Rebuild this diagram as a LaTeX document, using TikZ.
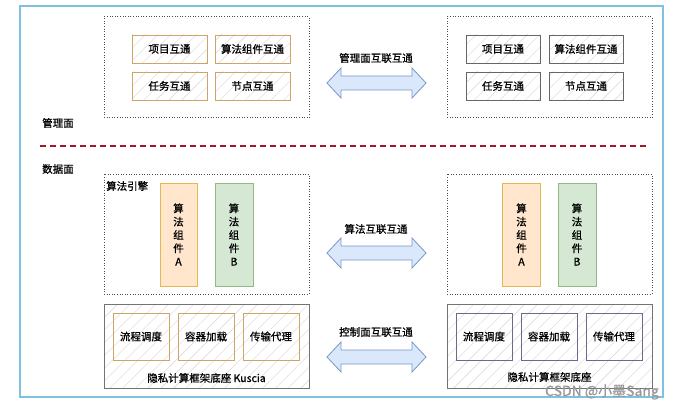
\documentclass[tikz,border=0pt]{standalone}
\usepackage{fontspec}
\setmainfont[FakeBold=0.9]{Noto Sans CJK SC}
\usetikzlibrary{patterns.meta}
\definecolor{frameblue}{RGB}{125,195,225}
\definecolor{dashred}{RGB}{165,20,40}
\definecolor{tan}{RGB}{205,165,100}
\definecolor{purp}{RGB}{110,105,140}
\definecolor{orfill}{RGB}{255,230,204}
\definecolor{ordraw}{RGB}{225,185,80}
\definecolor{grfill}{RGB}{213,232,212}
\definecolor{grdraw}{RGB}{150,185,130}
\definecolor{arfill}{RGB}{218,232,252}
\definecolor{ardraw}{RGB}{120,150,200}
\tikzset{
  hatch/.style={preaction={fill=white},pattern={Lines[angle=45,distance=9pt,line width=0.4pt]},pattern color=black!16},
  dotbox/.style={draw=black!70,line width=1pt,dash pattern=on 1pt off 1.6pt},
  tanbox/.style={hatch,draw=tan,line width=0.9pt},
  greybox/.style={hatch,draw=black!60,line width=0.9pt},
  purpbox/.style={hatch,draw=purp,line width=0.9pt},
  basebox/.style={hatch,draw=black!55,line width=0.8pt},
  lbl/.style={font=\fontsize{10.5}{12}\selectfont,inner sep=0pt},
  vlbl/.style={lbl,align=center,font=\fontsize{10.5}{13.3}\selectfont},
  dblarrow/.style={draw=ardraw,fill=arfill,line width=0.8pt},
}
\newcommand{\dblarr}[3]{% x1 x2 yc
  \draw[dblarrow] (#1,#3) -- (#1+14,#3-15) -- (#1+14,#3-7) -- (#2-14,#3-7) -- (#2-14,#3-15) -- (#2,#3)
   -- (#2-14,#3+15) -- (#2-14,#3+7) -- (#1+14,#3+7) -- (#1+14,#3+15) -- cycle;}
\begin{document}
\begin{tikzpicture}[x=1pt,y=-1pt]
\useasboundingbox (0,0) rectangle (674,409);
% outer frame
\draw[frameblue,line width=1.6pt] (20,6) rectangle (663,397);
% management plane
\node[lbl] (mgmt) at (58,123) {管理面};
\draw[dashred,line width=1.5pt,dash pattern=on 6pt off 4pt] (40,146) -- (648,146);
\node[dotbox,minimum width=205pt,minimum height=101pt,inner sep=0pt] (mgL) at (206.5,67.5) {};
\node[tanbox,lbl,minimum width=75pt,minimum height=28pt] (l1) at (169.5,49) {项目互通};
\node[tanbox,lbl,minimum width=75pt,minimum height=28pt] (l2) at (252.5,49) {算法组件互通};
\node[tanbox,lbl,minimum width=75pt,minimum height=28pt] (l3) at (169.5,86) {任务互通};
\node[tanbox,lbl,minimum width=75pt,minimum height=28pt] (l4) at (252.5,86) {节点互通};
\node[dotbox,minimum width=205pt,minimum height=101pt,inner sep=0pt] (mgR) at (549.5,67.5) {};
\node[greybox,lbl,minimum width=74pt,minimum height=28pt] (r1) at (503,49) {项目互通};
\node[greybox,lbl,minimum width=74pt,minimum height=28pt] (r2) at (586,49) {算法组件互通};
\node[greybox,lbl,minimum width=74pt,minimum height=28pt] (r3) at (503,86) {任务互通};
\node[greybox,lbl,minimum width=74pt,minimum height=28pt] (r4) at (586,86) {节点互通};
\dblarr{327}{426}{83}
\node[lbl] (t1) at (376,58) {管理面互联互通};
% data plane
\node[lbl] (data) at (58,169) {数据面};
\node[dotbox,minimum width=205pt,minimum height=120pt,inner sep=0pt] (engL) at (206.5,234) {};
\node[lbl,anchor=north west] (engt) at (106,181) {算法引擎};
\node[draw=ordraw,fill=orfill,line width=0.9pt,minimum width=37pt,minimum height=103pt,vlbl] (aA) at (178.5,234.5) {算\\法\\组\\件\\A};
\node[draw=grdraw,fill=grfill,line width=0.9pt,minimum width=38pt,minimum height=103pt,vlbl] (aB) at (234,234.5) {算\\法\\组\\件\\B};
\node[dotbox,minimum width=205pt,minimum height=120pt,inner sep=0pt] (engR) at (549.5,234) {};
\node[draw=ordraw,fill=orfill,line width=0.9pt,minimum width=38pt,minimum height=103pt,vlbl] (bA) at (521.5,234.5) {算\\法\\组\\件\\A};
\node[draw=grdraw,fill=grfill,line width=0.9pt,minimum width=38pt,minimum height=103pt,vlbl] (bB) at (577,234.5) {算\\法\\组\\件\\B};
\dblarr{327}{426}{253}
\node[lbl] (t2) at (376,229) {算法互联互通};
% base
\node[basebox,minimum width=205pt,minimum height=84pt,inner sep=0pt] (kL) at (206.5,346) {};
\node[tanbox,lbl,minimum width=56pt,minimum height=47pt] (k1) at (141,336.5) {流程调度};
\node[tanbox,lbl,minimum width=56pt,minimum height=47pt] (k2) at (206,336.5) {容器加载};
\node[tanbox,lbl,minimum width=56pt,minimum height=47pt] (k3) at (271,336.5) {传输代理};
\node[lbl] (kLt) at (206.5,378) {隐私计算框架底座 Kuscia};
\node[basebox,minimum width=205pt,minimum height=84pt,inner sep=0pt] (kR) at (549.5,346) {};
\node[purpbox,lbl,minimum width=56pt,minimum height=47pt] (m1) at (484,336.5) {流程调度};
\node[purpbox,lbl,minimum width=56pt,minimum height=47pt] (m2) at (549,336.5) {容器加载};
\node[purpbox,lbl,minimum width=56pt,minimum height=47pt] (m3) at (614,336.5) {传输代理};
\node[lbl] (kRt) at (549.5,377) {隐私计算框架底座};
\dblarr{327}{426}{357}
\node[lbl] (t3) at (376,332) {控制面互联互通};
% watermark
\node[lbl,text=black!40,font=\fontsize{14}{16}\selectfont,anchor=east] (wm) at (659,392) {CSDN @小墨Sang};
\end{tikzpicture}
\end{document}
